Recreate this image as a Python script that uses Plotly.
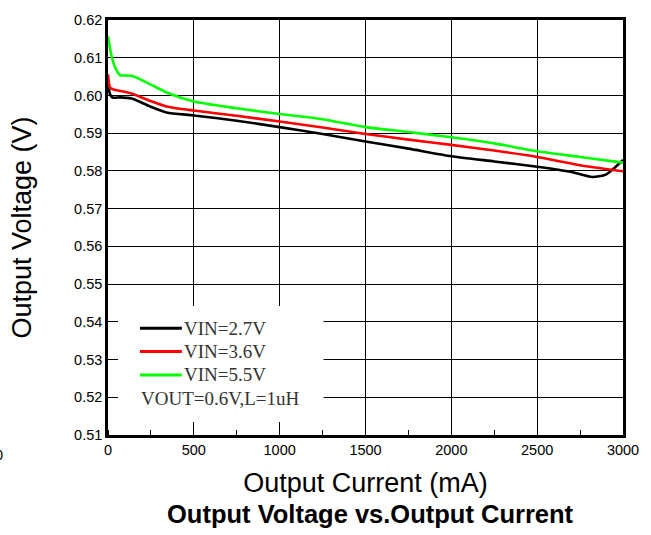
import plotly.graph_objects as go

# Load regulation data: output voltage (V) against output current (mA)
i_27 = [0, 12, 29, 70, 138, 244, 341, 500, 750, 1000, 1250, 1500, 1750, 2000, 2250, 2500, 2700, 2820, 2900, 3000]
v_27 = [0.6034, 0.6003, 0.5994, 0.5995, 0.5992, 0.5971, 0.5955, 0.5947, 0.5933, 0.5916, 0.5898, 0.5878,
        0.5859, 0.5839, 0.5825, 0.5811, 0.5797, 0.5784, 0.5790, 0.5829]

i_36 = [0, 12, 35, 70, 138, 244, 341, 500, 750, 1000, 1250, 1500, 1750, 2000, 2250, 2500, 2750, 3000]
v_36 = [0.6056, 0.6021, 0.6015, 0.6012, 0.6005, 0.5986, 0.5971, 0.5960, 0.5946, 0.5931, 0.5915, 0.5898,
        0.5883, 0.5869, 0.5854, 0.5837, 0.5815, 0.5799]

i_55 = [0, 12, 23, 47, 70, 138, 244, 341, 500, 750, 1000, 1250, 1500, 1750, 2000, 2250, 2500, 2750, 3000]
v_55 = [0.6157, 0.6125, 0.6100, 0.6069, 0.6054, 0.6052, 0.6030, 0.6008, 0.5984, 0.5966, 0.5951, 0.5937,
        0.5916, 0.5903, 0.5889, 0.5873, 0.5852, 0.5837, 0.5822]

series_names = ["VIN=2.7V", "VIN=3.6V", "VIN=5.5V"]
series_colors = ["#000000", "#ff0000", "#00ff00"]
condition_text = "VOUT=0.6V,L=1uH"

x_ticks = [0, 500, 1000, 1500, 2000, 2500, 3000]
y_ticks = [0.51, 0.52, 0.53, 0.54, 0.55, 0.56, 0.57, 0.58, 0.59, 0.60, 0.61, 0.62]

W, H = 651, 535
L, R, T, B = 108, 27, 17, 100
pw, ph = W - L - R, H - T - B


def px_x(p):
    return (p - L) / pw


def px_y(p):
    return (H - B - p) / ph


SANS = "Liberation Sans"
SERIF = "Liberation Serif"

fig = go.Figure()
for xs, ys, name, col in zip([i_27, i_36, i_55], [v_27, v_36, v_55], series_names, series_colors):
    fig.add_trace(go.Scatter(
        x=xs, y=ys, mode="lines", name=name, showlegend=False,
        line=dict(color=col, width=2.6, shape="spline", smoothing=0.6),
    ))

# blank panel behind the key block (gridlines stop around it)
fig.add_shape(type="rect", xref="paper", yref="paper",
              x0=px_x(118), x1=px_x(324), y0=px_y(422), y1=px_y(305),
              fillcolor="white", line=dict(width=0), layer="above")

# key: a line sample and a label per series, then the test condition
key_rows = [327.5, 351, 374.5]
for row, name, col in zip(key_rows, series_names, series_colors):
    fig.add_shape(type="line", xref="paper", yref="paper",
                  x0=px_x(140), x1=px_x(182), y0=px_y(row), y1=px_y(row),
                  line=dict(color=col, width=3), layer="above")
    fig.add_annotation(text=name, xref="paper", yref="paper",
                       x=px_x(182), y=px_y(row), xanchor="left", yanchor="middle",
                       showarrow=False, font=dict(family=SERIF, size=19, color="#333333"))

fig.add_annotation(text=condition_text, xref="paper", yref="paper",
                   x=px_x(139), y=px_y(398.5), xanchor="left", yanchor="middle",
                   showarrow=False, font=dict(family=SERIF, size=19, color="#333333"))

fig.add_annotation(text="0", xref="paper", yref="paper",
                   x=px_x(5), y=px_y(455), xanchor="right", yanchor="middle",
                   showarrow=False, font=dict(family=SANS, size=14.5, color="#000000"))

fig.add_annotation(text="<b>Output Voltage vs.Output Current</b>", xref="paper", yref="paper",
                   x=px_x(371), y=px_y(515), xanchor="center", yanchor="middle",
                   showarrow=False, font=dict(family=SANS, size=25.5, color="#000000"))

axis_common = dict(
    showline=True, linecolor="black", linewidth=2.5, mirror=True,
    showgrid=True, gridcolor="black", gridwidth=1.3,
    zeroline=False, ticks="",
    tickfont=dict(family=SANS, size=14.5, color="black"),
)

fig.update_xaxes(
    range=[0, 3000], tickvals=x_ticks, ticktext=[str(v) for v in x_ticks],
    title=dict(text="Output Current (mA)", font=dict(family=SANS, size=27, color="black"),
               standoff=16),
    minor=dict(dtick=250, tick0=0, ticks="inside", ticklen=5, tickcolor="black", showgrid=False),
    **axis_common,
)
fig.update_yaxes(
    range=[0.51, 0.62], tickvals=y_ticks, ticktext=[f"{v:.2f}" for v in y_ticks],
    title=dict(text="Output Voltage (V)", font=dict(family=SANS, size=27, color="black"),
               standoff=35),
    **axis_common,
)

fig.update_layout(
    width=W, height=H,
    margin=dict(l=L, r=R, t=T, b=B),
    paper_bgcolor="white", plot_bgcolor="white",
    showlegend=False,
)

fig.write_html("out.html")
